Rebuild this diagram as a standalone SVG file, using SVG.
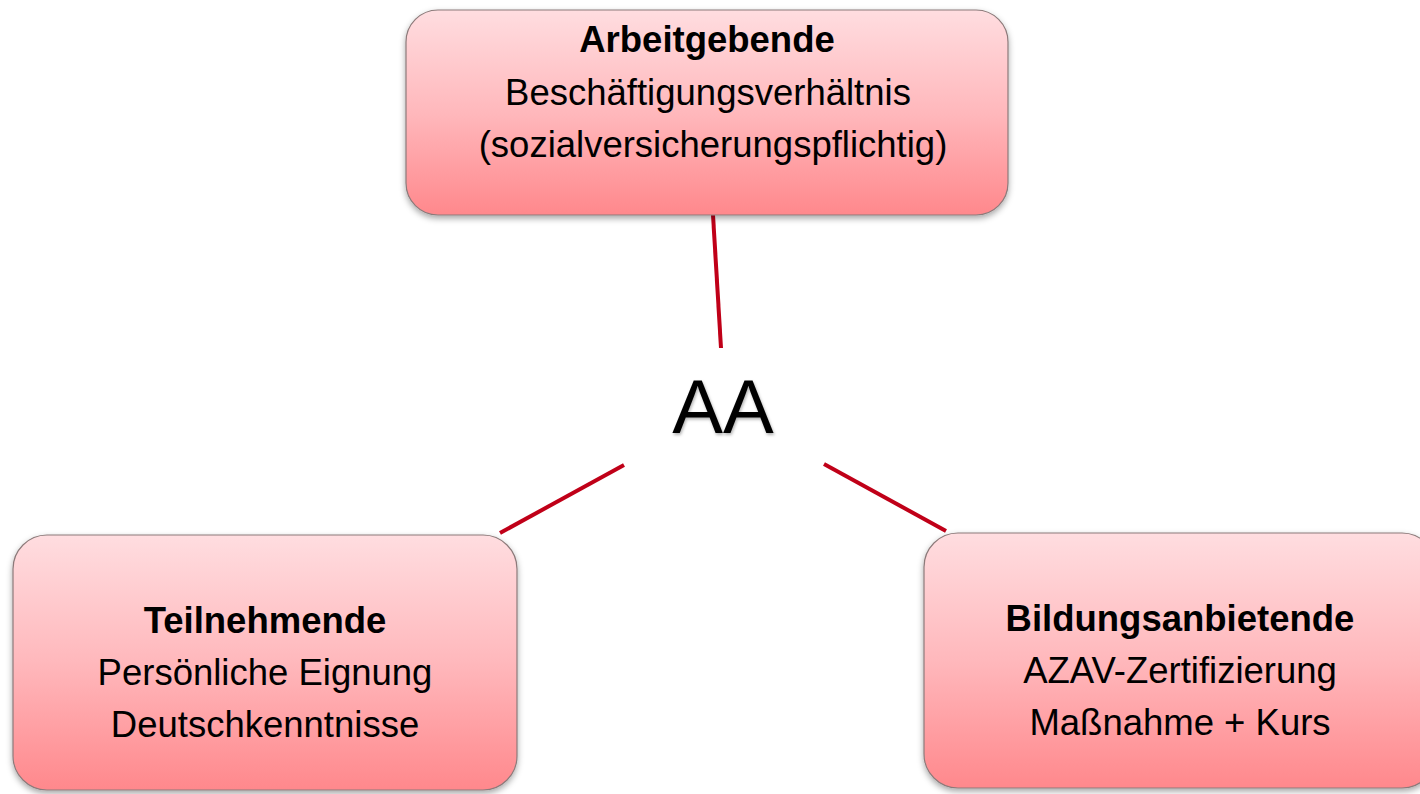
<svg xmlns="http://www.w3.org/2000/svg" width="1420" height="794" viewBox="0 0 1420 794">
<defs>
<linearGradient id="g" x1="0" y1="0" x2="0" y2="1">
<stop offset="0" stop-color="#FFDDE0"/>
<stop offset="0.5" stop-color="#FFB8BC"/>
<stop offset="1" stop-color="#FF888C"/>
</linearGradient>
<filter id="sh" x="-10%" y="-10%" width="120%" height="125%">
<feDropShadow dx="0" dy="3" stdDeviation="3" flood-color="#000" flood-opacity="0.35"/>
</filter>
<filter id="tsh" x="-10%" y="-10%" width="120%" height="130%">
<feDropShadow dx="1" dy="2" stdDeviation="1.5" flood-color="#000" flood-opacity="0.3"/>
</filter>
</defs>
<style>
.box{fill:url(#g);stroke:#8C7A7A;stroke-width:1.2;filter:url(#sh)}
.t{font-family:"Liberation Sans",Arial,sans-serif;font-size:36.5px;fill:#000;text-anchor:middle}
.b{font-weight:bold}
.c{stroke:#C00018;stroke-width:4;fill:none}
</style>
<rect width="1420" height="794" fill="#fff"/>
<g id="connectors">
<line class="c" x1="713" y1="215" x2="721" y2="348"/>
<line class="c" x1="500" y1="533" x2="624" y2="465"/>
<line class="c" x1="824" y1="464" x2="946" y2="531"/>
</g>
<g id="arbeitgebende">
<rect class="box" x="406" y="10" width="602" height="205" rx="32"/>
<text class="t b" x="707" y="52">Arbeitgebende</text>
<text class="t" x="708" y="105">Beschäftigungsverhältnis</text>
<text class="t" x="713" y="157">(sozialversicherungspflichtig)</text>
</g>
<g id="aa">
<text x="723" y="433" style="font-family:'Liberation Sans',Arial,sans-serif;font-size:76px;text-anchor:middle;filter:url(#tsh)">AA</text>
</g>
<g id="teilnehmende">
<rect class="box" x="13" y="535" width="504" height="255" rx="34"/>
<text class="t b" x="265" y="633">Teilnehmende</text>
<text class="t" x="265" y="685">Persönliche Eignung</text>
<text class="t" x="265" y="737">Deutschkenntnisse</text>
</g>
<g id="bildungsanbietende">
<rect class="box" x="924" y="533" width="512" height="255" rx="34"/>
<text class="t b" x="1180" y="631">Bildungsanbietende</text>
<text class="t" x="1180" y="683">AZAV-Zertifizierung</text>
<text class="t" x="1180" y="735">Maßnahme + Kurs</text>
</g>
</svg>
